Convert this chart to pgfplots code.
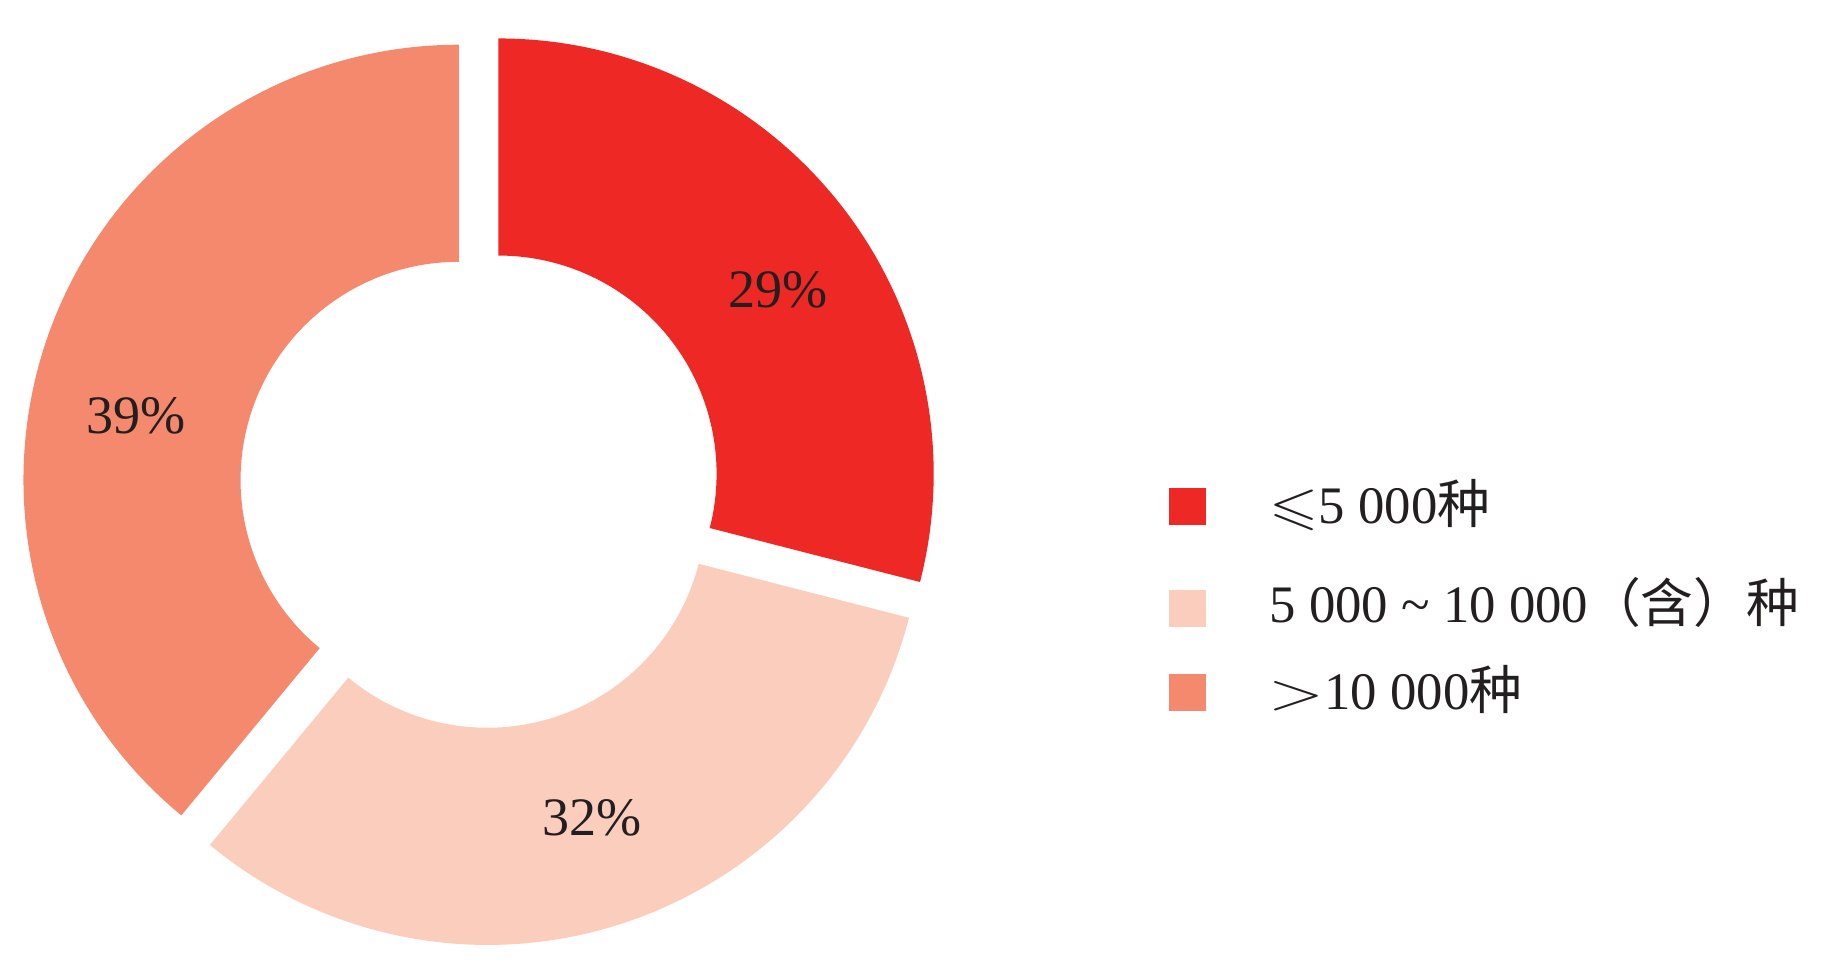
\documentclass[border=0pt]{standalone}
\usepackage{graphicx}
\usepackage{pgfplots}
\usepackage{pgfplotstable}
\pgfplotsset{compat=1.18}
\usepackage{amssymb}
\usepackage{fontspec}
\setmainfont{Liberation Serif}
\newfontfamily\cjk{Noto Sans CJK SC}
\definecolor{cA}{HTML}{EE2824}
\definecolor{cB}{HTML}{FACDBC}
\definecolor{cC}{HTML}{F5896E}
\definecolor{txt}{HTML}{231F20}

\pgfplotstableread{
share
29
32
39
}\shares
\pgfplotstablegetelem{0}{share}\of\shares \edef\vA{\pgfplotsretval}
\pgfplotstablegetelem{1}{share}\of\shares \edef\vB{\pgfplotsretval}
\pgfplotstablegetelem{2}{share}\of\shares \edef\vC{\pgfplotsretval}
\pgfmathsetmacro\aA{90}
\pgfmathsetmacro\aB{\aA-3.6*\vA}
\pgfmathsetmacro\aC{\aB-3.6*\vB}
\pgfmathsetmacro\aD{\aC-3.6*\vC}
\pgfmathsetmacro\mA{(\aA+\aB)/2}
\pgfmathsetmacro\mB{(\aB+\aC)/2}
\pgfmathsetmacro\mC{(\aC+\aD)/2}
\def\Ro{4.353cm}
\def\Ri{2.182cm}
\def\off{0.229cm}

\begin{document}
\begin{tikzpicture}
\begin{axis}[
  width=18.3cm, height=9.7cm, scale only axis,
  xmin=0, xmax=1830, ymin=0, ymax=970,
  hide axis, clip=false,
]
% donut slices
\fill[cA, shift={(axis cs:480.3,482.2)}, shift={(\mA:\off)}]
  (\aA:\Ro) arc[start angle=\aA, end angle=\aB, radius=\Ro]
  -- (\aB:\Ri) arc[start angle=\aB, end angle=\aA, radius=\Ri] -- cycle;
\fill[cB, shift={(axis cs:480.3,482.2)}, shift={(\mB:\off)}]
  (\aB:\Ro) arc[start angle=\aB, end angle=\aC, radius=\Ro]
  -- (\aC:\Ri) arc[start angle=\aC, end angle=\aB, radius=\Ri] -- cycle;
\fill[cC, shift={(axis cs:480.3,482.2)}, shift={(\mC:\off)}]
  (\aC:\Ro) arc[start angle=\aC, end angle=\aD, radius=\Ro]
  -- (\aD:\Ri) arc[start angle=\aD, end angle=\aC, radius=\Ri] -- cycle;
% percentage labels
\node[txt, font=\fontsize{15.4}{18}\selectfont] at (axis cs:778,680) {29\%};
\node[txt, font=\fontsize{15.4}{18}\selectfont] at (axis cs:592,152) {32\%};
\node[txt, font=\fontsize{15.4}{18}\selectfont] at (axis cs:136,554) {39\%};
% legend markers
\addplot[only marks, mark=square*, mark size=5.1pt, cA, mark options={draw=none, fill=cA}] coordinates {(1187.5,463.5)};
\addplot[only marks, mark=square*, mark size=5.1pt, cB, mark options={draw=none, fill=cB}] coordinates {(1187.5,361.5)};
\addplot[only marks, mark=square*, mark size=5.1pt, cC, mark options={draw=none, fill=cC}] coordinates {(1187.5,277.5)};
% legend texts
\node[txt, anchor=base west, inner sep=0pt, font=\fontsize{15}{17}\selectfont] at (axis cs:1269,446) {\scalebox{1.2}[1]{$\leqslant$}5 000{\cjk 种}};
\node[txt, anchor=base west, inner sep=0pt, font=\fontsize{15}{17}\selectfont] at (axis cs:1269,347.3) {5 000 {\char`\~} 10 000{\cjk （含）种}};
\node[txt, anchor=base west, inner sep=0pt, font=\fontsize{15}{17}\selectfont] at (axis cs:1268,260) {\scalebox{1.45}[1.05]{$>$}10 000{\cjk 种}};
\end{axis}
\pgfresetboundingbox
\path[use as bounding box] (current axis.south west) rectangle (current axis.north east);
\end{tikzpicture}
\end{document}
